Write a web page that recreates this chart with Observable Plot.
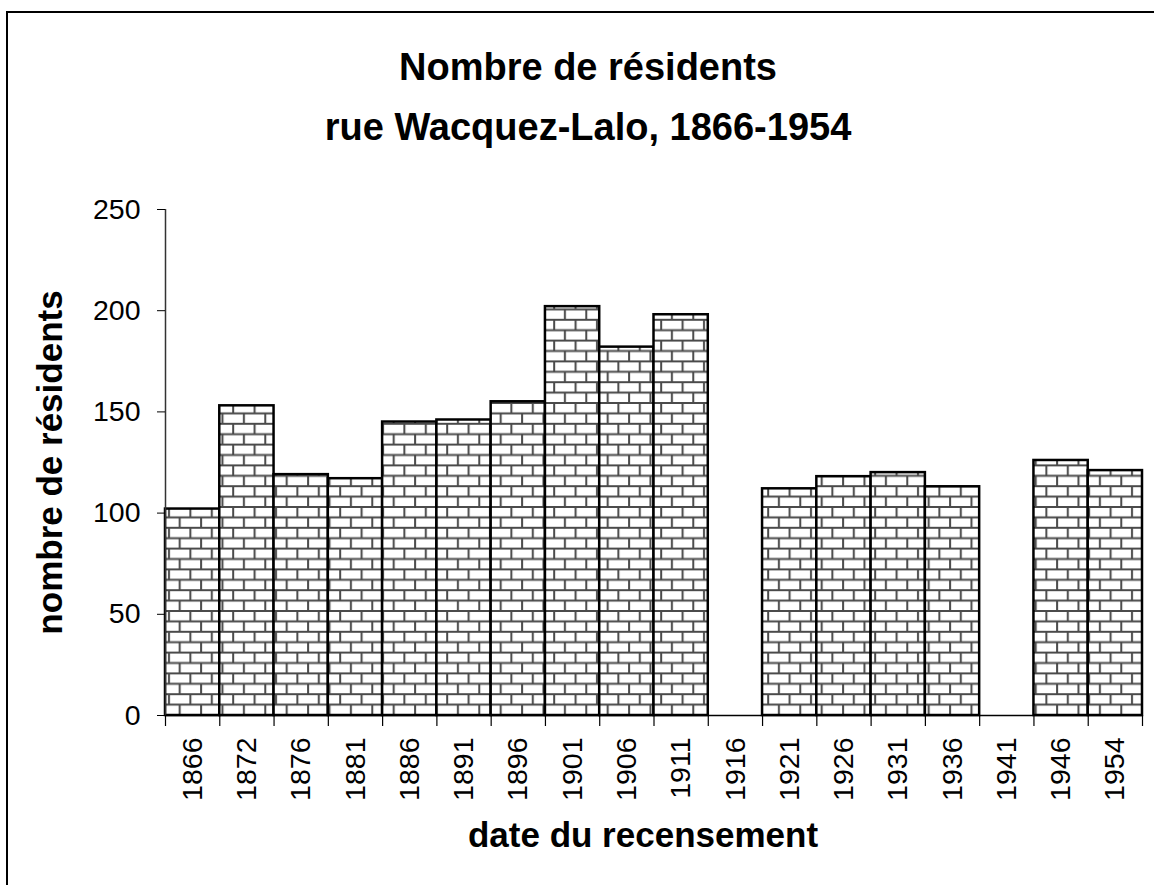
<!DOCTYPE html>
<html>
<head>
<meta charset="utf-8">
<script src="https://cdn.jsdelivr.net/npm/d3@7"></script>
<script src="https://cdn.jsdelivr.net/npm/@observablehq/plot@0.6"></script>
<style>
  html, body { margin: 0; padding: 0; background: #fff; }
  #wrap { position: relative; width: 1154px; height: 885px; overflow: hidden; font-family: "Liberation Sans", Arial, sans-serif; }
  #frame { position: absolute; left: 6px; top: 11px; width: 1200px; height: 950px; border-top: 2px solid #000; border-left: 2px solid #000; box-sizing: border-box; }
  #title { position: absolute; left: 0; width: 1176px; top: 37px; text-align: center; font-weight: bold; font-size: 38px; line-height: 60px; color: #000; }
  #chart { position: absolute; left: 0; top: 0; }
</style>
</head>
<body>
<div id="wrap">
  <div id="frame"></div>
  <div id="chart"></div>
  <div id="title">Nombre de résidents<br>rue Wacquez-Lalo, 1866-1954</div>
</div>
<script>
const years = ["1866","1872","1876","1881","1886","1891","1896","1901","1906","1911","1916","1921","1926","1931","1936","1941","1946","1954"];
const residents = [102, 153, 119, 117, 145, 146, 155, 202, 182, 198, null, 112, 118, 120, 113, null, 126, 121];
const yTicks = [0, 50, 100, 150, 200, 250];
const xTitle = "date du recensement";
const yTitle = "nombre de résidents";

const data = years.map((year, i) => ({i, year, value: residents[i]})).filter(d => d.value != null);
const boundaries = d3.range(years.length + 1);

const chart = Plot.plot({
  width: 1154,
  height: 885,
  marginLeft: 165,
  marginRight: 12,
  marginTop: 209,
  marginBottom: 170,
  style: {fontFamily: "'Liberation Sans', Arial, sans-serif", background: "transparent", color: "#000"},
  x: {domain: [0, years.length], axis: null},
  y: {domain: [0, 250], axis: null},
  marks: [
    Plot.rectY(data, {x1: d => d.i, x2: d => d.i + 1, y: "value", fill: "url(#bricks)", stroke: "#000", strokeWidth: 2.5}),
    Plot.ruleX([0], {y1: 0, y2: 250, stroke: "#333", strokeWidth: 1.5}),
    Plot.ruleY([0], {stroke: "#000", strokeWidth: 1.5}),
    Plot.ruleX(boundaries, {x: d => d, y1: 0, y2: 0, insetBottom: -11, stroke: "#000", strokeWidth: 1.2}),
    Plot.axisY({ticks: yTicks, tickSize: 8, tickPadding: 17, fontSize: 28.5, label: null, stroke: "#000"}),
    Plot.axisX({ticks: years.map((_, i) => i + 0.5), tickFormat: v => years[Math.floor(v)], tickRotate: -90, tickSize: 0, tickPadding: 22, fontSize: 28.5, label: null}),
    Plot.text([xTitle], {text: d => d, frameAnchor: "bottom", lineAnchor: "middle", textAnchor: "middle", dx: -11, dy: 120, fontSize: 35, fontWeight: "bold", fill: "#000"}),
    Plot.text([yTitle], {text: d => d, frameAnchor: "left", lineAnchor: "middle", textAnchor: "middle", dx: -115, rotate: -90, fontSize: 35, fontWeight: "bold", fill: "#000"})
  ]
});

const bw = 21.4, rh = 10.4;
const defs = d3.select(chart).insert("defs", ":first-child");
const pat = defs.append("pattern")
  .attr("id", "bricks")
  .attr("patternUnits", "userSpaceOnUse")
  .attr("width", bw)
  .attr("height", rh * 2)
  .attr("patternTransform", "translate(165,715)");
pat.append("rect").attr("width", bw).attr("height", rh * 2).attr("fill", "#fff");
const g = pat.append("g").attr("stroke", "#4a4a4a").attr("stroke-width", 2).attr("fill", "none");
g.append("line").attr("x1", 0).attr("x2", bw).attr("y1", 0).attr("y2", 0);
g.append("line").attr("x1", 0).attr("x2", bw).attr("y1", rh).attr("y2", rh);
g.append("line").attr("x1", 0).attr("x2", bw).attr("y1", rh * 2).attr("y2", rh * 2);
g.append("line").attr("x1", 4).attr("x2", 4).attr("y1", 0).attr("y2", rh);
g.append("line").attr("x1", 4 + bw / 2).attr("x2", 4 + bw / 2).attr("y1", rh).attr("y2", rh * 2);

document.getElementById("chart").appendChild(chart);
</script>
</body>
</html>
